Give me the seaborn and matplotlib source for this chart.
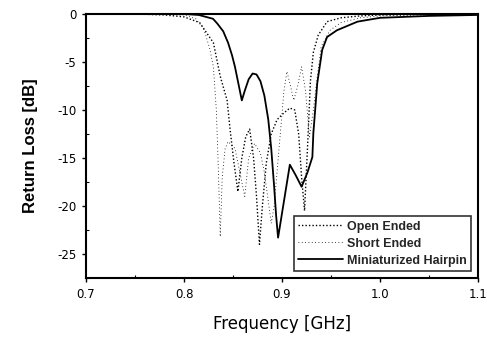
import matplotlib
matplotlib.use("Agg")
import matplotlib.pyplot as plt
from matplotlib.ticker import MultipleLocator
import seaborn as sns
import pandas as pd

freq_open = [0.70, 0.75, 0.78, 0.80, 0.816, 0.830, 0.837, 0.844, 0.847, 0.851, 0.855,
             0.859, 0.863, 0.867, 0.871, 0.874, 0.877, 0.880, 0.884, 0.889, 0.895,
             0.902, 0.908, 0.913, 0.917, 0.920, 0.923, 0.926, 0.929, 0.932, 0.937,
             0.946, 0.960, 0.980, 1.00, 1.05, 1.10]
rl_open = [0.0, 0.0, -0.1, -0.3, -0.9, -3.0, -6.5, -9.0, -12.0, -15.5, -18.5,
           -15.0, -12.8, -12.0, -15.0, -19.0, -24.0, -20.0, -15.5, -12.5, -11.0,
           -10.3, -9.8, -10.0, -12.5, -17.0, -20.5, -14.0, -7.0, -4.0, -2.2,
           -0.8, -0.4, -0.2, -0.1, 0.0, 0.0]

freq_short = [0.70, 0.75, 0.80, 0.812, 0.820, 0.826, 0.830, 0.833, 0.835, 0.837,
              0.839, 0.842, 0.845, 0.852, 0.858, 0.862, 0.866, 0.872, 0.878, 0.882,
              0.886, 0.889, 0.892, 0.897, 0.902, 0.905, 0.908, 0.912, 0.916, 0.920,
              0.924, 0.928, 0.932, 0.936, 0.940, 0.949, 0.960, 0.980, 1.00, 1.05, 1.10]
rl_short = [0.0, 0.0, -0.1, -0.5, -1.5, -3.5, -5.5, -10.0, -16.0, -23.2,
            -17.0, -14.0, -13.3, -14.0, -17.0, -19.0, -15.0, -13.5, -14.5, -16.5,
            -19.5, -21.8, -20.0, -14.0, -8.0, -6.0, -7.2, -9.0, -7.5, -5.5,
            -8.0, -12.8, -10.0, -6.5, -3.4, -1.7, -0.9, -0.4, -0.2, -0.1, 0.0]

freq_hairpin = [0.70, 0.75, 0.80, 0.815, 0.8296, 0.834, 0.840, 0.845, 0.849, 0.852,
                0.856, 0.859, 0.862, 0.866, 0.870, 0.874, 0.878, 0.882, 0.886, 0.889,
                0.892, 0.894, 0.896, 0.902, 0.908, 0.914, 0.920, 0.926, 0.931, 0.932,
                0.936, 0.941, 0.946, 0.956, 0.977, 1.00, 1.05, 1.10]
rl_hairpin = [0.0, 0.0, 0.0, -0.1, -0.5, -1.0, -1.8, -3.0, -4.3, -5.5,
              -7.5, -9.0, -8.0, -6.8, -6.2, -6.3, -7.0, -8.5, -11.0, -14.0,
              -18.0, -21.0, -23.3, -19.5, -15.7, -16.8, -18.0, -16.5, -14.9, -12.4,
              -7.2, -3.75, -2.4, -1.7, -0.8, -0.4, -0.2, -0.1]

df = pd.concat([
    pd.DataFrame({"freq": freq_open, "rl": rl_open, "series": "Open Ended"}),
    pd.DataFrame({"freq": freq_short, "rl": rl_short, "series": "Short Ended"}),
    pd.DataFrame({"freq": freq_hairpin, "rl": rl_hairpin, "series": "Miniaturized Hairpin"}),
])

sns.set_theme(style="ticks")
plt.rcParams["font.family"] = ["Liberation Sans", "DejaVu Sans"]

fig = plt.figure(figsize=(4.87, 3.41), dpi=100)
ax = fig.add_axes([0.1766, 0.1848, 0.8049, 0.7742])

styles = {
    "Open Ended": dict(linestyle=(0, (1, 1.5)), linewidth=1.0),
    "Short Ended": dict(linestyle=(0, (1, 3)), linewidth=0.6),
    "Miniaturized Hairpin": dict(linestyle="-", linewidth=1.3),
}
for name, sty in styles.items():
    sns.lineplot(data=df[df.series == name], x="freq", y="rl", color="black",
                 label=name, ax=ax, **sty)

ax.set_xlim(0.7, 1.1)
ax.set_ylim(-27.5, 0)
ax.xaxis.set_major_locator(MultipleLocator(0.1))
ax.xaxis.set_minor_locator(MultipleLocator(0.05))
ax.yaxis.set_major_locator(MultipleLocator(5))
ax.yaxis.set_minor_locator(MultipleLocator(2.5))
ax.set_xticklabels([f"{v:.1f}" for v in ax.get_xticks()], family="DejaVu Sans")
ax.set_yticklabels([f"{v:g}".replace("\u2212", "-") for v in ax.get_yticks()],
                   family="DejaVu Sans")
ax.tick_params(which="major", direction="out", length=3, width=1, labelsize=8.5,
               color="black", labelcolor="black", pad=4)
ax.tick_params(which="minor", direction="in", length=2, width=0.8, color="black")
for sp in ax.spines.values():
    sp.set_visible(True)
    sp.set_linewidth(1.5)
    sp.set_color("black")

ax.set_xlabel("Frequency [GHz]", fontsize=12, color="black", family="DejaVu Sans",
              labelpad=10)
ax.set_ylabel("Return Loss [dB]", fontsize=12, color="black", fontweight="bold",
              labelpad=14)

leg = ax.legend(loc="lower right", frameon=True, fancybox=False,
                handlelength=3.6, borderaxespad=0.55, labelspacing=0.4,
                borderpad=0.35, handletextpad=0.3,
                prop={"weight": "bold", "size": 9})
leg.get_frame().set_edgecolor("black")
leg.get_frame().set_linewidth(1.2)

fig.savefig("out.png", dpi=100)
